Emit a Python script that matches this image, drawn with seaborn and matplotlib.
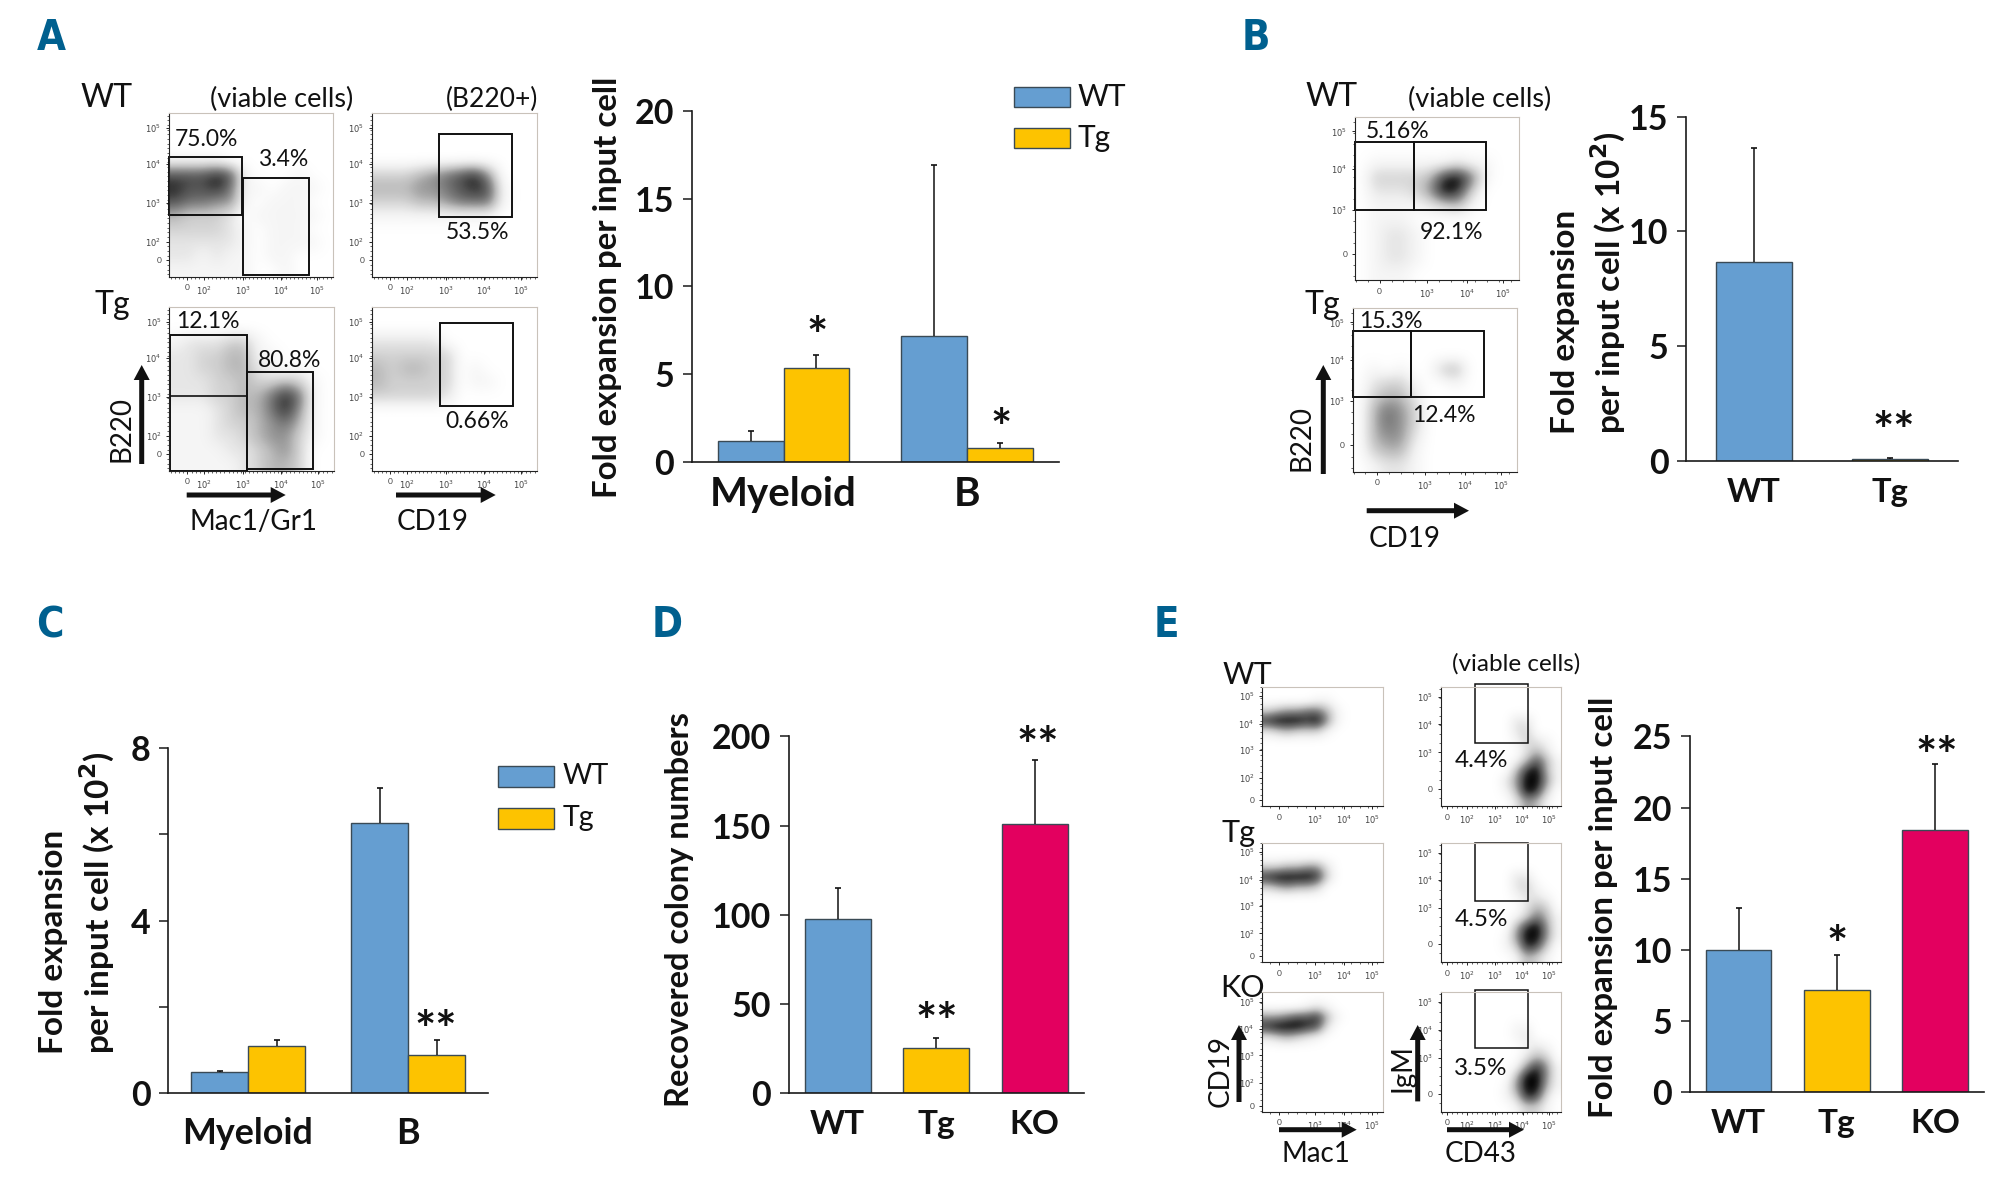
import numpy as np
import pandas as pd
import matplotlib
matplotlib.use("Agg")
import matplotlib.pyplot as plt
from matplotlib.patches import Rectangle
from matplotlib.ticker import AutoMinorLocator
import seaborn as sns

sns.set_theme(style="ticks")
plt.rcParams['font.family'] = ['Lato', 'DejaVu Sans']

BLUE = '#659ED1'
YELLOW = '#FDC300'
RED = '#E3005F'
PANEL = '#00608F'

# bar values: bar height and top of the error bar
groups = ['Myeloid', 'B']
series = ['WT', 'Tg']
a_wt = [1.2, 7.2]
a_tg = [5.35, 0.82]
a_wt_top = [1.75, 16.9]
a_tg_top = [6.1, 1.1]

b_cats = ['WT', 'Tg']
b_vals = [8.67, 0.08]
b_tops = [13.64, 0.15]

c_wt = [0.48, 6.27]
c_tg = [1.10, 0.89]
c_wt_top = [0.51, 7.07]
c_tg_top = [1.23, 1.24]

d_cats = ['WT', 'Tg', 'KO']
d_vals = [97.5, 25.5, 150.8]
d_tops = [114.8, 30.8, 186.5]

e_cats = ['WT', 'Tg', 'KO']
e_vals = [9.97, 7.14, 18.39]
e_tops = [12.94, 9.6, 23.04]

# flow plots: how dark each plot looks, 0-9, read by eye on a 12x12 grid (top row first)
a1_map = ['000000000000', '000000000000', '000000000000', '111100000000', '777871000100', '877861101110',
          '766551011100', '433320111110', '333321011100', '222221011110', '221211011000', '111111001000']
a2_map = ['000000000000', '000000000000', '000000000000', '000000000000', '333456785000', '444556787100',
          '333445666100', '111111111000', '000000000000', '000000000000', '000000000000', '000000000000']
a3_map = ['000000000000', '000000000000', '122233100000', '223344110000', '223344210100', '222334334310',
          '222334468610', '111234468510', '111233456410', '111223455310', '111122345300', '111112344300']
a4_map = ['000000000000', '000000000000', '222220000000', '333333000000', '434433010000', '433333011000',
          '333332000000', '000000000000', '000000000000', '000000000000', '000000000000', '000000000000']
b1_map = ['000000000000', '000000000000', '000000000000', '011111121100', '033334896100', '022235983000',
          '011112341000', '011100000000', '012210000000', '012210000000', '012210000000', '011100000000']
b2_map = ['000000000000', '000000000000', '000000000000', '000000000000', '010100340000', '023310010000',
          '034420000000', '046530000000', '046530000000', '045520000000', '034410000000', '012210000000']
e1_map = ['000000000000', '000001100000', '345566410000', '899989510000', '234333100000', '000000000000',
          '000000000000', '000000000000', '000000000000', '000000000000', '000000000000', '000000000000']
e3_map = ['000000000000', '000000000000', '334455200000', '899998300000', '345443000000', '000000000000',
          '000000000000', '000000000000', '000000000000', '000000000000', '000000000000', '000000000000']
e5_map = ['000000000000', '000012100000', '556778410000', '899987200000', '234321000000', '000000000000',
          '000000000000', '000000000000', '000000000000', '000000000000', '000000000000', '000000000000']
e2_map = ['000000000000', '000000000000', '000000000000', '000000022000', '000000023000', '000000013210',
          '000000002420', '000000014741', '000000048941', '000000259951', '000000149830', '000000025410']
e4_map = ['000000000000', '000000000000', '000000000000', '000000022000', '000000023100', '000000012210',
          '000000002430', '000000013641', '000000048951', '000000159951', '000000138730', '000000014310']
e6_map = ['000000000000', '000000000000', '000000000000', '000000011000', '000000012000', '000000001210',
          '000000002430', '000000015851', '000000049951', '000000159941', '000000138720', '000000013310']

# flow plot tick positions (axis fractions) and labels
flow_lab = ['0', '$10^{2}$', '$10^{3}$', '$10^{4}$', '$10^{5}$']
flow_lab3 = ['0', '$10^{3}$', '$10^{4}$', '$10^{5}$']
a_xt = [.11, .21, .45, .68, .90]
a_yt = [.10, .214, .45, .688, .908]
b_xt = [.15, .44, .68, .90]
b_yt = [.16, .43, .68, .91]
e_xt = [.14, .435, .678, .904]
e_yt = [.05, .24, .47, .69, .92]
e2_xt = [.05, .216, .45, .68, .90]
e2_yt = [.147, .45, .684, .914]

fig = plt.figure(figsize=(20, 11.8), dpi=100)
ov = fig.add_axes([0, 0, 1, 1], zorder=10)
ov.set_xlim(0, 2000)
ov.set_ylim(1180, 0)
ov.axis('off')
ov.patch.set_alpha(0)


def px_axes(x0, y0, x1, y1):
    # axes placed by its pixel box in the 2000x1180 canvas
    return fig.add_axes([x0 / 2000, 1 - y1 / 1180, (x1 - x0) / 2000, (y1 - y0) / 1180])


def flow(box, rows, gates, xt, xl, yt, yl):
    ax = px_axes(*box)
    grid = np.array([[int(c) for c in r] for r in rows]) / 9
    ax.imshow(grid ** 1.15, cmap='Greys', vmin=0, vmax=1, extent=(0, 1, 0, 1), aspect='auto', interpolation='bicubic')
    for g in gates:
        ax.add_patch(Rectangle((g[0], g[1]), g[2] - g[0], g[3] - g[1], fill=False, ec='#111111', lw=g[4], clip_on=False))
    ax.set_xticks(xt, xl)
    ax.set_yticks(yt, yl)
    ax.xaxis.set_minor_locator(AutoMinorLocator(4))
    ax.yaxis.set_minor_locator(AutoMinorLocator(4))
    ax.tick_params(which='major', length=2.5, width=.7, labelsize=6, pad=3, labelcolor='#444444')
    ax.tick_params(which='minor', length=1.2, width=.5)
    for s in ['top', 'right']:
        ax.spines[s].set_color('#c9c2ba')
        ax.spines[s].set_linewidth(.8)
    for s in ['left', 'bottom']:
        ax.spines[s].set_color('#222222')
        ax.spines[s].set_linewidth(.8)
    return ax


def finish_bars(ax, ylim, yt, yl, cats, tick_fs, cat_pad, xl_n):
    ax.set_xlim(-.5, xl_n - .5)
    ax.set_ylim(*ylim)
    ax.set_yticks(yt, yl)
    ax.set_xticks(range(xl_n), cats)
    ax.set(xlabel='', ylabel='')
    ax.tick_params(axis='y', length=6.5, width=1.1, pad=6, labelsize=24.5, color='k')
    ax.tick_params(axis='x', length=0, pad=cat_pad, labelsize=tick_fs)
    for lab in ax.get_xticklabels() + ax.get_yticklabels():
        lab.set_fontweight('bold')
        lab.set_color('#111111')
    for s in ['top', 'right']:
        ax.spines[s].set_visible(False)
    for s in ['left', 'bottom']:
        ax.spines[s].set_color('k')
        ax.spines[s].set_linewidth(1.2)


def err(ax, bars, vals, tops):
    xs = [b.get_x() + b.get_width() / 2 for b in bars]
    ax.vlines(xs, vals, tops, color='#111111', lw=1.1, zorder=5)
    ax.scatter(xs, tops, marker='_', s=14, color='#111111', lw=1.2, zorder=5, clip_on=False)


def grouped(box, wt, tg, wt_top, tg_top, ylim, yt, yl, fs, pad, width):
    ax = px_axes(*box)
    df = pd.DataFrame({'group': groups * 2, 'series': series[0:1] * 2 + series[1:] * 2, 'value': wt + tg})
    sns.barplot(data=df, x='group', y='value', hue='series', palette=[BLUE, YELLOW], saturation=1,
                width=width, gap=0, errorbar=None, edgecolor='#3a4a55', linewidth=1, legend=False, ax=ax)
    err(ax, ax.containers[0], wt, wt_top)
    err(ax, ax.containers[1], tg, tg_top)
    finish_bars(ax, ylim, yt, yl, groups, fs, pad, 2)
    return ax


def single(box, cats, vals, tops, colors, ylim, yt, yl, fs, pad, width):
    ax = px_axes(*box)
    sns.barplot(x=cats, y=vals, hue=cats, palette=colors, saturation=1, width=width, errorbar=None,
                edgecolor='#3a4a55', linewidth=1, legend=False, ax=ax)
    bars = [c[0] for c in ax.containers]
    err(ax, bars, vals, tops)
    finish_bars(ax, ylim, yt, yl, cats, fs, pad, len(cats))
    return ax


def legend(x, y1, y2, w, h, x_text, fs):
    for yy, col, name in [(y1, BLUE, 'WT'), (y2, YELLOW, 'Tg')]:
        ov.add_patch(Rectangle((x, yy), w, h, fc=col, ec='#3a4a55', lw=1))
        ov.text(x_text, yy + h / 2, name, fontsize=fs, ha='left', va='center', color='#111111')


def tx(x, y, s, fs=16, **kw):
    kw.setdefault('color', '#111111')
    ov.text(x, y, s, fontsize=fs, ha=kw.pop('ha', 'center'), va=kw.pop('va', 'center'), **kw)


def star(x, y, s):
    # the glyph sits high in its line box, so drop it onto the read position
    ov.text(x, y + 15, s, fontsize=36, fontweight='bold', ha='center', va='center', color='#111111')


def arrow(x, y, dx, dy):
    ov.arrow(x, y, dx, dy, width=5, head_width=16, head_length=15, length_includes_head=True, color='#111111', lw=0)


# panel letters
for x, y, s in [(51, 38, 'A'), (1256, 38, 'B'), (50, 625, 'C'), (667, 625, 'D'), (1166, 625, 'E')]:
    ov.text(x, y, s, fontsize=30, fontweight='bold', color=PANEL, ha='center', va='center',
            family='DejaVu Sans', stretch='condensed')

# panel A flow plots
flow((169, 113, 333.3, 276.7), a1_map,
     [(0, .378, .442, .73, 1.4), (.45, .01, .854, .6, 1.4)], a_xt, flow_lab, a_yt, flow_lab)
flow((372, 113, 537, 276.7), a2_map, [(.405, .367, .85, .873, 1.4)], a_xt, flow_lab, a_yt, flow_lab)
flow((169.3, 307, 334, 470.7), a3_map,
     [(.005, .0, .47, .83, 1.4), (.005, .455, .47, .455, 1.2), (.47, .01, .87, .6, 1.4)],
     a_xt, flow_lab, a_yt, flow_lab)
flow((372, 307, 537, 470.7), a4_map, [(.41, .395, .855, .9, 1.4)], a_xt, flow_lab, a_yt, flow_lab)

tx(107, 98, 'WT', 23)
tx(281.7, 99, '(viable cells)', 19.5)
tx(491.7, 99, '(B220+)', 19)
tx(112.6, 305, 'Tg', 23)
tx(206, 139, '75.0%', 16.5)
tx(283, 160, '3.4%', 16.5)
tx(478, 232.7, '53.5%', 16.5)
tx(207.7, 321, '12.1%', 16.5)
tx(290, 360.7, '80.8%', 16.5)
tx(477, 421, '0.66%', 16.5)
tx(121, 428.5, 'B220', 20, rotation=90)
arrow(141.7, 464, 0, -99)
arrow(186.7, 495, 99, 0)
arrow(396, 495, 99.7, 0)
tx(254, 522, 'Mac1/Gr1', 20)
tx(433, 522, 'CD19', 20)

ax_a = grouped((691.7, 110.7, 1059, 462), a_wt, a_tg, a_wt_top, a_tg_top, (0, 20),
               [0, 5, 10, 15, 20], ['0', '5', '10', '15', '20'], 29, 10, .717)
legend(1014, 87, 127.7, 56, 20, 1078, 21.5)
tx(607, 287.5, 'Fold expansion per input cell', 23.8, rotation=90, fontweight='bold')
star(816.7, 323, '*')
star(1000.7, 415, '*')

# panel B
flow((1355, 116.7, 1519.3, 280), b1_map,
     [(0, .427, .36, .845, 1.4), (.36, .427, .80, .845, 1.4)], b_xt, flow_lab3, b_yt, flow_lab3)
flow((1352.7, 307.7, 1517.3, 471.7), b2_map,
     [(0, .455, .354, .856, 1.4), (.354, .455, .795, .856, 1.4)], b_xt, flow_lab3, b_yt, flow_lab3)
tx(1332, 97, 'WT', 23)
tx(1479.5, 99, '(viable cells)', 19.5)
tx(1322, 305, 'Tg', 23)
tx(1398, 131.7, '5.16%', 16.5)
tx(1451.7, 232.7, '92.1%', 16.5)
tx(1390.7, 321.7, '15.3%', 16.5)
tx(1444, 416, '12.4%', 16.5)
tx(1302, 437.7, 'B220', 20, rotation=90)
arrow(1323.3, 474, 0, -109)
arrow(1366.7, 510.7, 102.3, 0)
tx(1404.3, 539, 'CD19', 20)

ax_b = single((1686, 116.7, 1958, 461), b_cats, b_vals, b_tops, [BLUE, YELLOW], (0, 15),
              [0, 5, 10, 15], ['0', '5', '10', '15'], 23.5, 12, .556)
tx(1565, 434, 'Fold expansion', 24, rotation=90, fontweight='bold', va='bottom')
tx(1608, 434, 'per input cell (x 10$^{\\mathbf{2}}$)', 24, rotation=90, fontweight='bold', va='bottom')
star(1894, 418.7, '**')

# panel C
ax_c = grouped((168, 748, 488, 1093), c_wt, c_tg, c_wt_top, c_tg_top, (0, 8),
               [0, 2, 4, 6, 8], ['0', '', '4', '', '8'], 25.8, 17, .7125)
legend(498, 766, 807.5, 55.5, 21, 563, 20.5)
tx(53, 1053.5, 'Fold expansion', 24, rotation=90, fontweight='bold', va='bottom')
tx(97, 1053.5, 'per input cell (x 10$^{\\mathbf{2}}$)', 24, rotation=90, fontweight='bold', va='bottom')
star(436, 1017.8, '**')

# panel D
ax_d = single((788.5, 736.4, 1084, 1093), d_cats, d_vals, d_tops, [BLUE, YELLOW, RED], (0, 200),
              [0, 50, 100, 150, 200], ['0', '50', '100', '150', '200'], 24, 12, .67)
tx(679, 910, 'Recovered colony numbers', 23.5, rotation=90, fontweight='bold')
star(936.5, 1009, '**')
star(1038, 733, '**')

# panel E flow plots
e_rows = [(686.5, 806.3), (842.5, 962), (992, 1111.7)]
e_left = [e1_map, e3_map, e5_map]
e_right = [e2_map, e4_map, e6_map]
e_gates = [(.288, .53, .723, 1.02, 1.1), (.288, .507, .723, .994, 1.1), (.288, .529, .723, 1.015, 1.1)]
for (top, bot), lc, rc, g in zip(e_rows, e_left, e_right, e_gates):
    flow((1262.3, top, 1383.3, bot), lc, [], e_xt, flow_lab3, e_yt, flow_lab)
    flow((1440.7, top, 1561, bot), rc, [g], e2_xt, flow_lab, e2_yt, flow_lab3)

tx(1247, 675, 'WT', 22)
tx(1238, 833, 'Tg', 22)
tx(1242.3, 988, 'KO', 22)
tx(1516.3, 663.4, '(viable cells)', 17.5)
tx(1481.7, 760.5, '4.4%', 17.5)
tx(1481.7, 919, '4.5%', 17.5)
tx(1481, 1068.7, '3.5%', 17.5)
tx(1221, 1071, 'CD19', 20, rotation=90)
tx(1402, 1068, 'IgM', 20, rotation=90)
arrow(1239, 1102, 0, -77)
arrow(1417.7, 1101.4, 0, -76.4)
arrow(1279, 1129.7, 77.7, 0)
arrow(1447, 1129.7, 77, 0)
tx(1315.8, 1154, 'Mac1', 20)
tx(1481, 1154, 'CD43', 20)

ax_e = single((1689.5, 736.4, 1984, 1092), e_cats, e_vals, e_tops, [BLUE, YELLOW, RED], (0, 25),
              [0, 5, 10, 15, 20, 25], ['0', '5', '10', '15', '20', '25'], 24, 12, .668)
tx(1603, 907.6, 'Fold expansion per input cell', 23.8, rotation=90, fontweight='bold')
star(1837, 932.4, '*')
star(1936.4, 744, '**')

fig.savefig('out.png', dpi=100, facecolor='white')
